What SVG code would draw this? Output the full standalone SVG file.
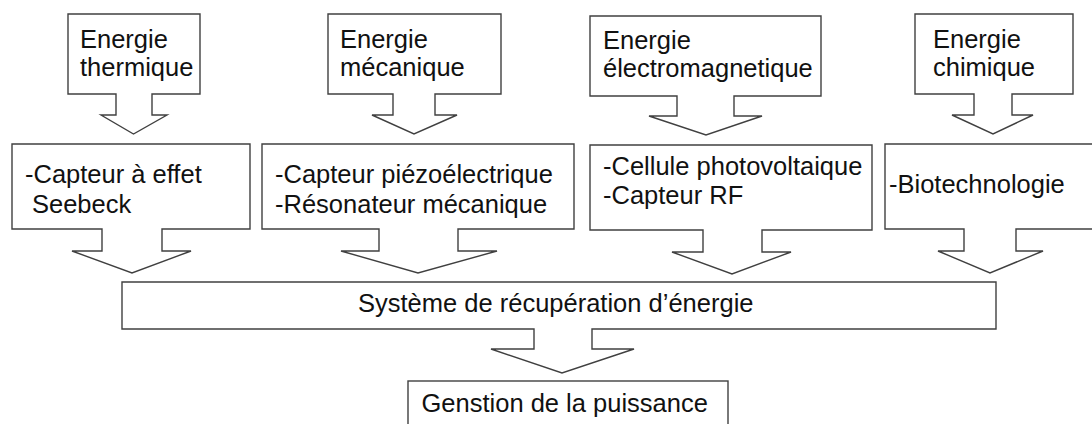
<svg xmlns="http://www.w3.org/2000/svg" width="1092" height="424" viewBox="0 0 1092 424">
<style>
.c{fill:#ffffff;stroke:#404040;stroke-width:1.4;stroke-linejoin:miter}
.t{font-family:"Liberation Sans",Arial,sans-serif;font-size:25.5px;fill:#111111}
</style>
<rect width="1092" height="424" fill="#ffffff"/>
<g id="n-thermique">
<path class="c" d="M68,14 H200 V94 H152 V115 H167 L133.5,134 L101,115 H116 V94 H68 Z"/>
<text class="t" x="80" y="48">Energie</text>
<text class="t" x="80" y="76">thermique</text>
</g>
<g id="n-mecanique">
<path class="c" d="M328,14 H501 V94 H435 V115 H457 L414,134 L372,115 H393 V94 H328 Z"/>
<text class="t" x="340" y="48">Energie</text>
<text class="t" x="340" y="76">mécanique</text>
</g>
<g id="n-electro">
<path class="c" d="M590,16 H821 V96 H734 V116 H762 L706,135 L649,116 H677 V96 H590 Z"/>
<text class="t" x="603" y="49">Energie</text>
<text class="t" x="603" y="77">électromagnetique</text>
</g>
<g id="n-chimique">
<path class="c" d="M915,14 H1073 V94 H1012 V115 H1033 L993,134 L952,115 H974 V94 H915 Z"/>
<text class="t" x="933" y="48">Energie</text>
<text class="t" x="933" y="76">chimique</text>
</g>
<g id="n-seebeck">
<path class="c" d="M12,144 H250 V229 H162 V251 H191 L132,273 L72,251 H102 V229 H12 Z"/>
<text class="t" x="25" y="183">-Capteur à effet</text>
<text class="t" x="32" y="212.5">Seebeck</text>
</g>
<g id="n-piezo">
<path class="c" d="M262,144 H574 V229 H458 V251 H497 L418,273 L341,251 H379 V229 H262 Z"/>
<text class="t" x="275" y="183">-Capteur piézoélectrique</text>
<text class="t" x="275" y="212.5">-Résonateur mécanique</text>
</g>
<g id="n-photo">
<path class="c" d="M590,145 H872 V230 H762 V252 H791 L732,274 L672,252 H703 V230 H590 Z"/>
<text class="t" x="603" y="175">-Cellule photovoltaique</text>
<text class="t" x="603" y="204">-Capteur RF</text>
</g>
<g id="n-bio">
<path class="c" d="M885,144 H1100 V229 H1016 V251 H1043 L990,273 L938,251 H964 V229 H885 Z"/>
<text class="t" x="889" y="193">-Biotechnologie</text>
</g>
<g id="n-systeme">
<path class="c" d="M122,282 H996 V329 H592 V349 H634 L562,373 L491,349 H534 V329 H122 Z"/>
<text class="t" x="358" y="311.5">Système de récupération d’énergie</text>
</g>
<g id="n-gestion">
<rect class="c" x="408" y="381" width="320" height="60"/>
<text class="t" x="421.5" y="412">Genstion de la puissance</text>
</g>
<g id="connectors"></g>
</svg>
